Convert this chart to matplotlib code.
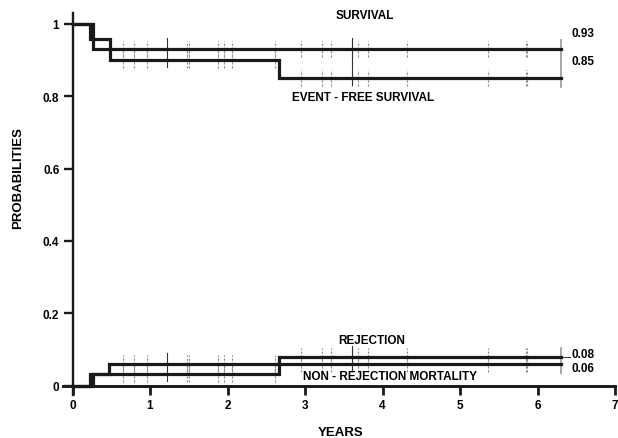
import numpy as np
import matplotlib.pyplot as plt

plt.rcParams['font.family'] = ['Liberation Sans', 'DejaVu Sans']
plt.rcParams['font.weight'] = 'bold'

# step curves: jump times and the value after each jump
surv_t = [0, 0.26]
surv_v = [1.0, 0.93]
efs_t = [0, 0.22, 0.48, 2.66]
efs_v = [1.0, 0.957, 0.90, 0.85]
rej_t = [0, 0.22, 2.66]
rej_v = [0.0, 0.032, 0.08]
nrm_t = [0, 0.26, 0.47]
nrm_v = [0.0, 0.032, 0.06]

t_end = 6.30

# censored follow-up times (dashed grey marks)
censor = [0.65, 0.79, 0.96, 1.48, 1.50, 1.88, 1.95, 2.06, 2.61, 2.95,
          3.22, 3.33, 3.60, 3.68, 3.81, 4.32, 5.36, 5.85, 5.87]
solid_marks = [1.22, 3.61]

labels_end = ['0.93', '0.85', '0.08', '0.06']

xticks = [0, 1, 2, 3, 4, 5, 6, 7]
yticks = [0, 0.2, 0.4, 0.6, 0.8, 1]
yticklabels = ['0', '0.2', '0.4', '0.6', '0.8', '1']


def step_val(tt, vv, x):
    i = np.searchsorted(tt, x, side='right') - 1
    return vv[i]


fig = plt.figure(figsize=(6.18, 4.39), dpi=100)
ax = fig.add_axes([0.1023, 0.0986, 0.8929, 0.8693])
ax.set_xlim(-0.12, 7.0)
ax.set_ylim(-0.025, 1.03)

curves = [(surv_t, surv_v), (efs_t, efs_v), (rej_t, rej_v), (nrm_t, nrm_v)]
for tt, vv in curves:
    ax.step(list(tt) + [t_end], list(vv) + [vv[-1]], where='post',
            color='#1a1a1a', lw=2.3, solid_joinstyle='miter', zorder=3)

# censor marks on each curve
for tt, vv in curves:
    for c in censor:
        v = step_val(tt, vv, c)
        ax.plot([c, c], [v - 0.022, v + 0.024], color='#8c8c8c', lw=0.8,
                ls=(0, (2, 1.5)), zorder=2)

# solid marks and end of follow-up marks, per group
groups = [[curves[0], curves[1]], [curves[2], curves[3]]]
for g in groups:
    for c in solid_marks:
        vals = [step_val(tt, vv, c) for tt, vv in g]
        ax.plot([c, c], [max(vals) + 0.03, max(min(vals) - 0.02, 0)],
                color='#333333', lw=0.8, zorder=2)
    vals = [vv[-1] for tt, vv in g]
    ax.plot([t_end, t_end], [max(vals) + 0.025, min(vals) - 0.025],
            color='#a0a0a0', lw=1.3, zorder=2)

# leader to the rejection label
ax.plot([t_end, 6.42], [rej_v[-1], rej_v[-1]], color='#333333', lw=0.7)

# value labels at the end
ax.text(6.44, 0.974, labels_end[0], fontsize=8.5, va='center', ha='left')
ax.text(6.44, 0.897, labels_end[1], fontsize=8.5, va='center', ha='left')
ax.text(6.44, 0.088, labels_end[2], fontsize=8.5, va='center', ha='left')
ax.text(6.44, 0.048, labels_end[3], fontsize=8.5, va='center', ha='left')

# curve names
ax.text(3.77, 1.025, 'SURVIVAL', fontsize=8.5, ha='center', va='center')
ax.text(3.75, 0.797, 'EVENT - FREE SURVIVAL', fontsize=8.5, ha='center', va='center')
ax.text(3.86, 0.126, 'REJECTION', fontsize=8.5, ha='center', va='center')
ax.text(4.10, 0.026, 'NON - REJECTION MORTALITY', fontsize=8.5, ha='center', va='center')

# axes styling
for s in ['top', 'right']:
    ax.spines[s].set_visible(False)
ax.spines['left'].set_position(('data', 0))
ax.spines['bottom'].set_position(('data', 0))
ax.spines['left'].set_bounds(-0.025, 1.03)
ax.spines['bottom'].set_bounds(-0.12, 7.0)
ax.spines['left'].set_linewidth(1.7)
ax.spines['bottom'].set_linewidth(2.1)
for s in ['left', 'bottom']:
    ax.spines[s].set_color('#1a1a1a')

ax.set_xticks(xticks)
ax.set_yticks(yticks)
ax.set_yticklabels(yticklabels)
ax.tick_params(axis='x', direction='out', length=6.5, width=2.0,
               color='#1a1a1a', labelsize=8.5, pad=3)
ax.tick_params(axis='y', direction='out', length=6.5, width=1.7,
               color='#1a1a1a', labelsize=8.5, pad=3)
for lab in ax.get_xticklabels() + ax.get_yticklabels():
    lab.set_fontweight('bold')

ax.text(0.502, -0.098, 'YEARS', transform=ax.transAxes, fontsize=9.5,
        ha='center', va='center')
ax.text(-0.082, 0.57, 'PROBABILITIES', transform=ax.transAxes, fontsize=9.5,
        ha='center', va='center', rotation=90)

fig.savefig('out.png', dpi=100)
